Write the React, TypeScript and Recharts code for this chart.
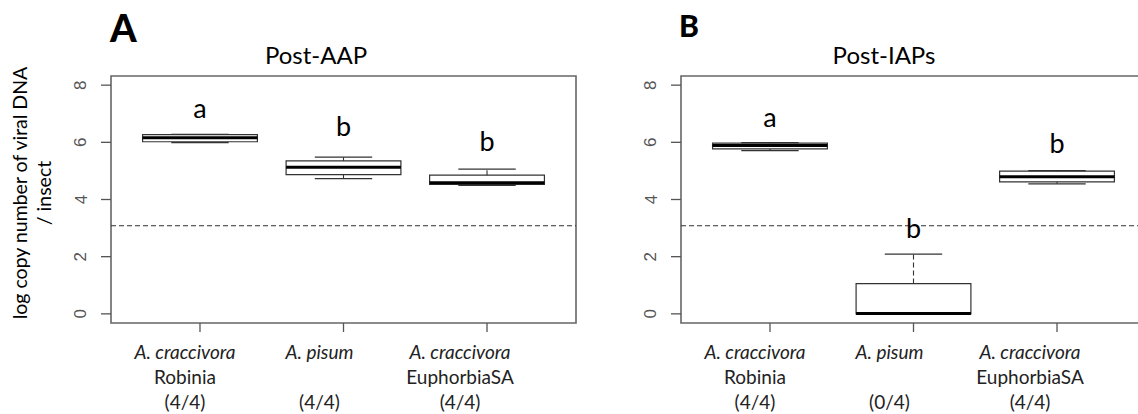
import React from 'react';
import {
  ComposedChart,
  XAxis,
  YAxis,
  ReferenceArea,
  ReferenceLine,
  ReferenceDot,
  Scatter,
} from 'recharts';

// ---------- data ----------
const speciesLabels = ['A. craccivora', 'A. pisum', 'A. craccivora'];
const hostLabels = ['Robinia', '', 'EuphorbiaSA'];
const countsAAP = ['(4/4)', '(4/4)', '(4/4)'];
const countsIAP = ['(4/4)', '(0/4)', '(4/4)'];

const yTicks = [0, 2, 4, 6, 8];
const threshold = 3.08;

// Post-AAP (panel A)
const aapMin = [5.99, 4.73, 4.49];
const aapQ1 = [6.02, 4.87, 4.53];
const aapMedian = [6.16, 5.13, 4.59];
const aapQ3 = [6.27, 5.35, 4.85];
const aapMax = [6.28, 5.48, 5.06];
const aapLetters = ['a', 'b', 'b'];
const aapLetterY = [7.19, 6.55, 6.02];

// Post-IAPs (panel B)
const iapMin = [5.71, 0, 4.55];
const iapQ1 = [5.77, 0, 4.62];
const iapMedian = [5.89, 0.01, 4.8];
const iapQ3 = [5.97, 1.06, 4.99];
const iapMax = [5.99, 2.09, 5.01];
const iapLetters = ['a', 'b', 'b'];
const iapLetterY = [6.86, 3.0, 5.95];

// ---------- styles ----------
const LABEL_FONT = 'Lato, "Open Sans", sans-serif';
const TICK_FONT = '"Liberation Sans", Arial, sans-serif';
const xLabelShift = [-15, -24, -27];

type Row = { x: number; min: number; q1: number; median: number; q3: number; max: number; letter: string; letterY: number };

function buildRows(mins: number[], q1s: number[], meds: number[], q3s: number[], maxs: number[], letters: string[], letterYs: number[]): Row[] {
  return meds.map((m, i) => ({
    x: i + 1,
    min: mins[i],
    q1: q1s[i],
    median: m,
    q3: q3s[i],
    max: maxs[i],
    letter: letters[i],
    letterY: letterYs[i],
  }));
}

const YTick = (props: any) => {
  const { x, y, payload } = props;
  const cx = x - 18;
  return (
    <text
      x={cx}
      y={y}
      transform={`rotate(-90, ${cx}, ${y})`}
      textAnchor="middle"
      dominantBaseline="central"
      fontSize={17}
      fill="#555"
      fontFamily={TICK_FONT}
    >
      {payload.value}
    </text>
  );
};

const makeXTick = (counts: string[]) => (props: any) => {
  const { x, y, payload } = props;
  const i = Math.round(payload.value) - 1;
  const tx = x + xLabelShift[i];
  return (
    <g fontFamily={LABEL_FONT} fontSize={19} fill="#222">
      <text x={tx} y={y + 25} textAnchor="middle" fontStyle="italic" fill="#222" fontSize={19}>
        {speciesLabels[i]}
      </text>
      {hostLabels[i] ? (
        <text x={tx} y={y + 50} textAnchor="middle" fill="#222" fontSize={19}>
          {hostLabels[i]}
        </text>
      ) : null}
      <text x={tx} y={y + 75} textAnchor="middle" fill="#222" fontSize={19}>
        {counts[i]}
      </text>
    </g>
  );
};

function BoxPanel({ left, rows, counts }: { left: number; rows: Row[]; counts: string[] }) {
  const XTick = makeXTick(counts);
  return (
    <div style={{ position: 'absolute', left, top: 0 }}>
      <ComposedChart
        width={600}
        height={414}
        data={rows}
        margin={{ top: 76, right: 24, bottom: 0, left: 0 }}
      >
        <XAxis
          type="number"
          dataKey="x"
          domain={[0.38, 3.62]}
          ticks={[1, 2, 3]}
          interval={0}
          allowDataOverflow
          axisLine={false}
          tickLine={{ stroke: '#555', strokeWidth: 1.3 }}
          tickSize={9}
          height={91}
          tick={<XTick />}
        />
        <YAxis
          type="number"
          domain={[-0.32, 8.32]}
          ticks={yTicks}
          interval={0}
          allowDataOverflow
          axisLine={false}
          tickLine={{ stroke: '#555', strokeWidth: 1.3 }}
          tickSize={10}
          width={111}
          tick={<YTick />}
        />
        <ReferenceArea
          x1={0.38}
          x2={3.62}
          y1={-0.32}
          y2={8.32}
          fill="none"
          fillOpacity={0}
          stroke="#666"
          strokeWidth={1.6}
          ifOverflow="visible"
        />
        <ReferenceLine y={threshold} stroke="#333" strokeWidth={1.1} strokeDasharray="5 3" />
        {rows.map((r) => (
          <ReferenceLine
            key={`wu${r.x}`}
            segment={[{ x: r.x, y: r.q3 }, { x: r.x, y: r.max }]}
            stroke="#333"
            strokeWidth={1.1}
            strokeDasharray="5 3"
          />
        ))}
        {rows.map((r) => (
          <ReferenceLine
            key={`wl${r.x}`}
            segment={[{ x: r.x, y: r.min }, { x: r.x, y: r.q1 }]}
            stroke="#333"
            strokeWidth={1.1}
            strokeDasharray="5 3"
          />
        ))}
        {rows.map((r) => (
          <ReferenceLine
            key={`su${r.x}`}
            segment={[{ x: r.x - 0.2, y: r.max }, { x: r.x + 0.2, y: r.max }]}
            stroke="#333"
            strokeWidth={1.2}
          />
        ))}
        {rows.map((r) => (
          <ReferenceLine
            key={`sl${r.x}`}
            segment={[{ x: r.x - 0.2, y: r.min }, { x: r.x + 0.2, y: r.min }]}
            stroke="#333"
            strokeWidth={1.2}
          />
        ))}
        {rows.map((r) => (
          <ReferenceArea
            key={`box${r.x}`}
            x1={r.x - 0.4}
            x2={r.x + 0.4}
            y1={r.q1}
            y2={r.q3}
            fill="#fff"
            fillOpacity={1}
            stroke="#333"
            strokeWidth={1.2}
            ifOverflow="visible"
          />
        ))}
        {rows.map((r) => (
          <ReferenceLine
            key={`med${r.x}`}
            segment={[{ x: r.x - 0.4, y: r.median }, { x: r.x + 0.4, y: r.median }]}
            stroke="#000"
            strokeWidth={3}
          />
        ))}
        {rows.map((r) => (
          <ReferenceDot
            key={`lt${r.x}`}
            x={r.x}
            y={r.letterY}
            r={0}
            fill="none"
            stroke="none"
            ifOverflow="visible"
            label={{ value: r.letter, position: 'center', fontSize: 27, fill: '#000', fontFamily: LABEL_FONT }}
          />
        ))}
        <Scatter dataKey="median" isAnimationActive={false} shape={() => <g />} />
      </ComposedChart>
    </div>
  );
}

export default function App() {
  const aapRows = buildRows(aapMin, aapQ1, aapMedian, aapQ3, aapMax, aapLetters, aapLetterY);
  const iapRows = buildRows(iapMin, iapQ1, iapMedian, iapQ3, iapMax, iapLetters, iapLetterY);
  return (
    <div
      style={{
        position: 'absolute',
        left: 0,
        top: 0,
        width: 1138,
        height: 414,
        overflow: 'hidden',
        background: '#fff',
      }}
    >
      <BoxPanel left={0} rows={aapRows} counts={countsAAP} />
      <BoxPanel left={570} rows={iapRows} counts={countsIAP} />
      <svg
        width={1138}
        height={414}
        style={{ position: 'absolute', left: 0, top: 0, pointerEvents: 'none' }}
        fontFamily={LABEL_FONT}
      >
        <text x={110} y={41.5} fontSize={38} fontWeight={900} fill="#000">A</text>
        <text x={679} y={37} fontSize={30} fontWeight={900} fill="#000">B</text>
        <text x={316} y={63.5} fontSize={24} textAnchor="middle" fill="#000">Post-AAP</text>
        <text x={884} y={63.5} fontSize={24} textAnchor="middle" fill="#000">Post-IAPs</text>
        <text
          x={19}
          y={193}
          fontSize={19.5}
          textAnchor="middle"
          dominantBaseline="central"
          transform="rotate(-90, 19, 193)"
          fill="#000"
        >
          log copy number of viral DNA
        </text>
        <text
          x={43}
          y={193}
          fontSize={19.5}
          textAnchor="middle"
          dominantBaseline="central"
          transform="rotate(-90, 43, 193)"
          fill="#000"
        >
          / insect
        </text>
      </svg>
    </div>
  );
}
